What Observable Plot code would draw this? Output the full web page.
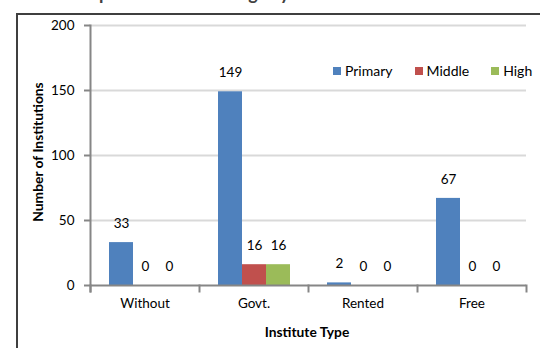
<!DOCTYPE html>
<html><head><meta charset="utf-8">
<script src="https://cdn.jsdelivr.net/npm/d3@7"></script>
<script src="https://cdn.jsdelivr.net/npm/@observablehq/plot@0.6"></script>
<style>
body{margin:0;background:#fff;}
#wrap{position:relative;width:540px;height:348px;overflow:hidden;font-family:Lato,"Open Sans",sans-serif;color:#000;}
#title{position:absolute;left:21px;top:-16px;font-size:18px;line-height:18px;font-weight:bold;color:#404040;white-space:nowrap}
#border{position:absolute;left:16px;top:13px;width:600px;height:400px;border:2px solid #3f3f3f;box-sizing:border-box}
#chart{position:absolute;left:0;top:0}
#ylabel{position:absolute;left:37px;top:152px;transform:translate(-50%,-50%) rotate(-90deg);font-weight:bold;font-size:13.8px;white-space:nowrap}
#xlabel{position:absolute;left:307px;top:331px;transform:translate(-50%,-50%);font-weight:bold;font-size:13.8px;white-space:nowrap}
#legend{position:absolute;left:333px;top:63px;display:flex;font-size:14px;line-height:16px}
#legend .item{display:flex;align-items:center;margin-right:22px}
#legend .sw{width:8px;height:8px;margin-right:4px}
</style>
</head><body>
<div id="wrap">
<div id="title">Ownership of School Buildings by Level</div>
<div id="border"></div>
<div id="chart"></div>
<div id="ylabel">Number of Institutions</div>
<div id="xlabel">Institute Type</div>
<div id="legend"></div>
</div>
<script>
const categories = ["Without", "Govt.", "Rented", "Free"];
const series = ["Primary", "Middle", "High"];
const primary = [33, 149, 2, 67];
const middle = [0, 16, 0, 0];
const high = [0, 16, 0, 0];
const colors = ["#4F81BD", "#C0504D", "#9BBB59"];
const yTicks = [0, 50, 100, 150, 200];

const valuesBySeries = [primary, middle, high];
const table = [];
categories.forEach((c, i) => series.forEach((s, j) => table.push({category: c, series: s, value: valuesBySeries[j][i]})));

const W = 540, H = 348, mL = 89, mR = 14, mT = 25, mB = 63;
const innerH = H - mT - mB;
const axisGray = "#868686";

const chart = Plot.plot({
  width: W, height: H,
  marginLeft: mL, marginRight: mR, marginTop: mT, marginBottom: mB,
  style: {fontFamily: "Lato, 'Open Sans', sans-serif", fontSize: "13px", color: "#000", background: "transparent", overflow: "visible"},
  fx: {domain: categories, padding: 0, label: null},
  x: {domain: series, paddingInner: 0, paddingOuter: 0.77, axis: null},
  y: {domain: [0, 200], label: null},
  color: {domain: series, range: colors},
  marks: [
    Plot.gridY(yTicks.filter(d => d > 0), {stroke: "#d9d9d9", strokeOpacity: 1, strokeWidth: 2}),
    Plot.barY(table, {fx: "category", x: "series", y: "value", fill: "series"}),
    Plot.text(table, {fx: "category", x: "series", y: "value", text: d => String(d.value), dy: -19, fontSize: 13.5, fill: "#000"}),
    Plot.ruleY([0], {stroke: axisGray, strokeWidth: 2}),
    Plot.frame({anchor: "left", facetAnchor: "left", stroke: axisGray, strokeWidth: 2, insetBottom: -6}),
    Plot.frame({anchor: "left", stroke: axisGray, strokeWidth: 2, insetTop: innerH, insetBottom: -6}),
    Plot.frame({anchor: "right", facetAnchor: "right", stroke: axisGray, strokeWidth: 2, insetTop: innerH, insetBottom: -6}),
    Plot.axisY(yTicks, {tickSize: 6, tickPadding: 10, stroke: axisGray, strokeWidth: 2, fontSize: 13.5, fill: "#000", label: null}),
    Plot.axisFx({anchor: "bottom", tickSize: 0, tickPadding: 13, fontSize: 13.5, fill: "#000", label: null})
  ]
});
document.getElementById("chart").appendChild(chart);

const legend = document.getElementById("legend");
series.forEach((s, j) => {
  const item = document.createElement("div");
  item.className = "item";
  const sw = document.createElement("div");
  sw.className = "sw";
  sw.style.background = colors[j];
  const t = document.createElement("span");
  t.textContent = s;
  item.appendChild(sw); item.appendChild(t);
  legend.appendChild(item);
});
</script>
</body></html>
